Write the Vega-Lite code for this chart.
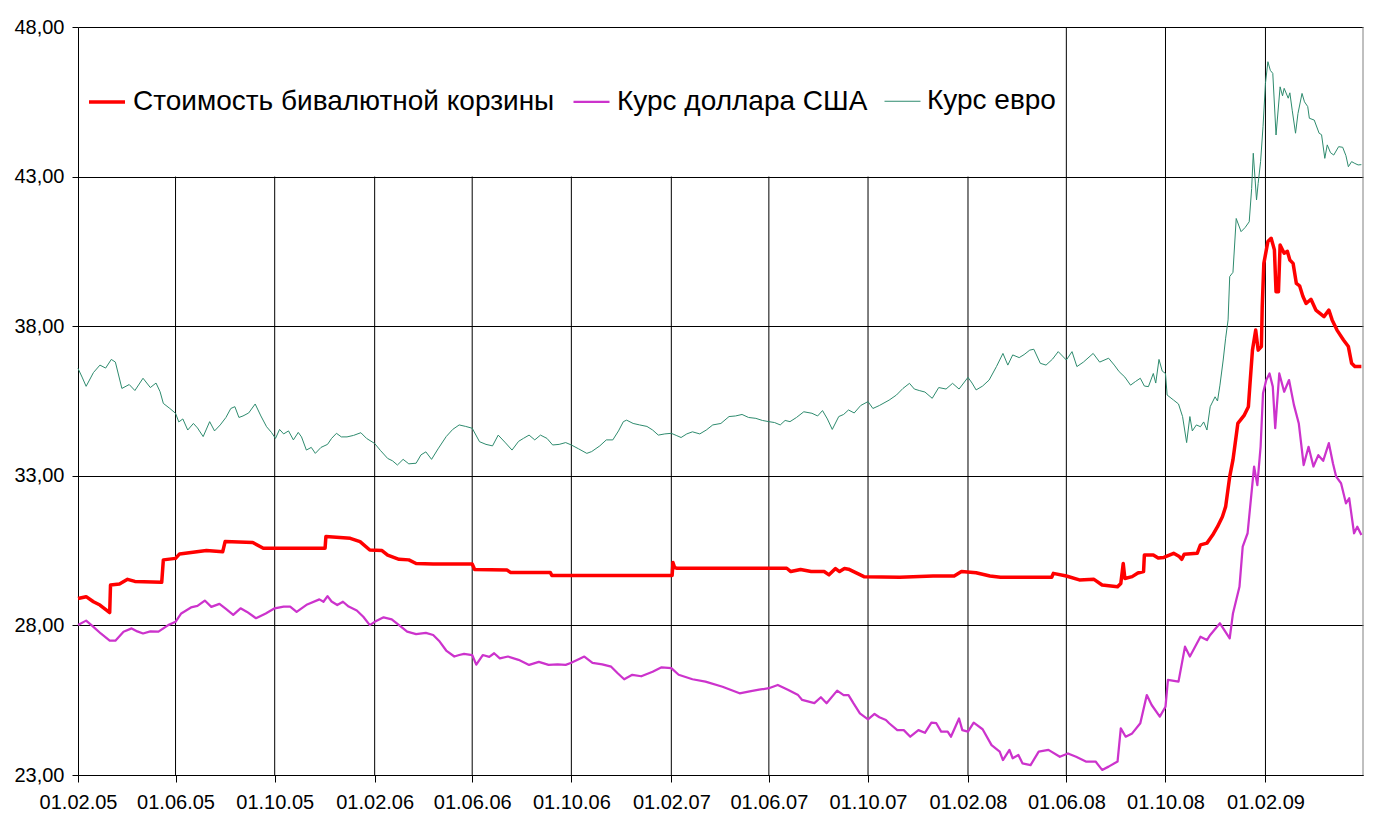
{
  "$schema": "https://vega.github.io/schema/vega-lite/v6.json",
  "width": 1285,
  "height": 748,
  "autosize": {"type": "none"},
  "padding": {"left": 78, "top": 27, "right": 20, "bottom": 49},
  "background": "white",
  "config": {
    "view": {"stroke": null},
    "font": "Liberation Sans",
    "axis": {"labelFont": "Liberation Sans", "labelColor": "black", "labelFontSize": 20}
  },
  "encoding": {
    "x": {
      "field": "d",
      "type": "temporal",
      "scale": {
        "type": "utc",
        "domain": [
          {"year": 2005, "month": 2, "date": 1, "utc": true},
          {"year": 2009, "month": 6, "date": 1, "utc": true}
        ]
      },
      "axis": {
        "title": null,
        "grid": false,
        "format": "%d.%m.%y",
        "values": [
          {"year": 2005, "month": 2, "date": 1, "utc": true},
          {"year": 2005, "month": 6, "date": 1, "utc": true},
          {"year": 2005, "month": 10, "date": 1, "utc": true},
          {"year": 2006, "month": 2, "date": 1, "utc": true},
          {"year": 2006, "month": 6, "date": 1, "utc": true},
          {"year": 2006, "month": 10, "date": 1, "utc": true},
          {"year": 2007, "month": 2, "date": 1, "utc": true},
          {"year": 2007, "month": 6, "date": 1, "utc": true},
          {"year": 2007, "month": 10, "date": 1, "utc": true},
          {"year": 2008, "month": 2, "date": 1, "utc": true},
          {"year": 2008, "month": 6, "date": 1, "utc": true},
          {"year": 2008, "month": 10, "date": 1, "utc": true},
          {"year": 2009, "month": 2, "date": 1, "utc": true}
        ],
        "domainColor": "black",
        "tickColor": "black",
        "tickSize": 7,
        "labelPadding": 10,
        "labelOverlap": false,
        "labelFlush": false
      }
    }
  },
  "layer": [
    {
      "data": {"values": [
        {"d": "2005-06-01"}, {"d": "2005-10-01"}, {"d": "2006-02-01"}, {"d": "2006-06-01"},
        {"d": "2006-10-01"}, {"d": "2007-02-01"}, {"d": "2007-06-01"}, {"d": "2007-10-01"},
        {"d": "2008-02-01"}
      ]},
      "mark": {"type": "rule", "color": "black", "strokeWidth": 1},
      "encoding": {
        "y": {"datum": 23, "type": "quantitative"},
        "y2": {"datum": 43}
      }
    },
    {
      "data": {"values": [
        {"d": "2008-06-01"}, {"d": "2008-10-01"}, {"d": "2009-02-01"}
      ]},
      "mark": {"type": "rule", "color": "black", "strokeWidth": 1},
      "encoding": {
        "y": {"datum": 23, "type": "quantitative"},
        "y2": {"datum": 48}
      }
    },
    {
      "data": {"values": [{"d": "2009-06-01"}]},
      "mark": {"type": "rule", "color": "#808080", "strokeWidth": 1},
      "encoding": {
        "y": {"datum": 23, "type": "quantitative"},
        "y2": {"datum": 48}
      }
    },
    {
      "data": {"values": [
        {"d":"2005-02-01","s":"e","v":36.59},{"d":"2005-02-06","s":"e","v":36.3},{"d":"2005-02-11","s":"e","v":35.99},
        {"d":"2005-02-20","s":"e","v":36.45},{"d":"2005-02-28","s":"e","v":36.7},{"d":"2005-03-07","s":"e","v":36.6},
        {"d":"2005-03-14","s":"e","v":36.89},{"d":"2005-03-19","s":"e","v":36.8},{"d":"2005-03-27","s":"e","v":35.92},
        {"d":"2005-04-05","s":"e","v":36.05},{"d":"2005-04-12","s":"e","v":35.85},{"d":"2005-04-22","s":"e","v":36.26},
        {"d":"2005-05-01","s":"e","v":35.95},{"d":"2005-05-08","s":"e","v":36.1},{"d":"2005-05-13","s":"e","v":35.81},
        {"d":"2005-05-17","s":"e","v":35.42},{"d":"2005-05-25","s":"e","v":35.25},{"d":"2005-06-01","s":"e","v":35.09},
        {"d":"2005-06-05","s":"e","v":34.8},{"d":"2005-06-10","s":"e","v":34.9},{"d":"2005-06-16","s":"e","v":34.53},
        {"d":"2005-06-23","s":"e","v":34.75},{"d":"2005-06-28","s":"e","v":34.6},{"d":"2005-07-05","s":"e","v":34.31},
        {"d":"2005-07-13","s":"e","v":34.81},{"d":"2005-07-19","s":"e","v":34.5},{"d":"2005-07-26","s":"e","v":34.7},
        {"d":"2005-08-02","s":"e","v":34.95},{"d":"2005-08-08","s":"e","v":35.25},{"d":"2005-08-13","s":"e","v":35.31},
        {"d":"2005-08-18","s":"e","v":34.95},{"d":"2005-08-23","s":"e","v":35.0},{"d":"2005-08-30","s":"e","v":35.1},
        {"d":"2005-09-07","s":"e","v":35.4},{"d":"2005-09-14","s":"e","v":35.0},{"d":"2005-09-21","s":"e","v":34.64},
        {"d":"2005-09-27","s":"e","v":34.45},{"d":"2005-10-02","s":"e","v":34.25},{"d":"2005-10-07","s":"e","v":34.55},
        {"d":"2005-10-12","s":"e","v":34.4},{"d":"2005-10-18","s":"e","v":34.5},{"d":"2005-10-24","s":"e","v":34.2},
        {"d":"2005-10-30","s":"e","v":34.45},{"d":"2005-11-03","s":"e","v":34.3},{"d":"2005-11-09","s":"e","v":33.86},
        {"d":"2005-11-15","s":"e","v":33.95},{"d":"2005-11-20","s":"e","v":33.75},{"d":"2005-11-27","s":"e","v":33.95},
        {"d":"2005-12-05","s":"e","v":34.05},{"d":"2005-12-10","s":"e","v":34.25},{"d":"2005-12-16","s":"e","v":34.42},
        {"d":"2005-12-22","s":"e","v":34.3},{"d":"2005-12-29","s":"e","v":34.3},{"d":"2006-01-06","s":"e","v":34.35},
        {"d":"2006-01-15","s":"e","v":34.44},{"d":"2006-01-22","s":"e","v":34.25},{"d":"2006-02-01","s":"e","v":34.08},
        {"d":"2006-02-08","s":"e","v":33.85},{"d":"2006-02-17","s":"e","v":33.58},{"d":"2006-02-23","s":"e","v":33.5},
        {"d":"2006-03-01","s":"e","v":33.36},{"d":"2006-03-08","s":"e","v":33.55},{"d":"2006-03-15","s":"e","v":33.4},
        {"d":"2006-03-24","s":"e","v":33.42},{"d":"2006-03-30","s":"e","v":33.7},{"d":"2006-04-05","s":"e","v":33.8},
        {"d":"2006-04-12","s":"e","v":33.55},{"d":"2006-04-20","s":"e","v":33.9},{"d":"2006-04-30","s":"e","v":34.31},
        {"d":"2006-05-08","s":"e","v":34.55},{"d":"2006-05-16","s":"e","v":34.7},{"d":"2006-05-24","s":"e","v":34.65},
        {"d":"2006-06-01","s":"e","v":34.59},{"d":"2006-06-10","s":"e","v":34.14},{"d":"2006-06-18","s":"e","v":34.05},
        {"d":"2006-06-26","s":"e","v":34.0},{"d":"2006-07-03","s":"e","v":34.36},{"d":"2006-07-12","s":"e","v":34.1},
        {"d":"2006-07-20","s":"e","v":33.86},{"d":"2006-07-28","s":"e","v":34.15},{"d":"2006-08-03","s":"e","v":34.25},
        {"d":"2006-08-10","s":"e","v":34.36},{"d":"2006-08-17","s":"e","v":34.2},{"d":"2006-08-24","s":"e","v":34.36},
        {"d":"2006-09-01","s":"e","v":34.25},{"d":"2006-09-08","s":"e","v":34.03},{"d":"2006-09-16","s":"e","v":34.05},
        {"d":"2006-09-24","s":"e","v":34.11},{"d":"2006-10-01","s":"e","v":34.03},{"d":"2006-10-10","s":"e","v":33.9},
        {"d":"2006-10-20","s":"e","v":33.75},{"d":"2006-10-26","s":"e","v":33.81},{"d":"2006-11-05","s":"e","v":34.0},
        {"d":"2006-11-13","s":"e","v":34.2},{"d":"2006-11-21","s":"e","v":34.2},{"d":"2006-11-28","s":"e","v":34.5},
        {"d":"2006-12-04","s":"e","v":34.81},{"d":"2006-12-08","s":"e","v":34.86},{"d":"2006-12-16","s":"e","v":34.75},
        {"d":"2006-12-24","s":"e","v":34.7},{"d":"2007-01-02","s":"e","v":34.65},{"d":"2007-01-09","s":"e","v":34.53},
        {"d":"2007-01-16","s":"e","v":34.36},{"d":"2007-01-24","s":"e","v":34.4},{"d":"2007-02-01","s":"e","v":34.42},
        {"d":"2007-02-07","s":"e","v":34.35},{"d":"2007-02-13","s":"e","v":34.28},{"d":"2007-02-20","s":"e","v":34.4},
        {"d":"2007-02-27","s":"e","v":34.47},{"d":"2007-03-08","s":"e","v":34.4},{"d":"2007-03-16","s":"e","v":34.53},
        {"d":"2007-03-24","s":"e","v":34.7},{"d":"2007-04-03","s":"e","v":34.75},{"d":"2007-04-13","s":"e","v":34.98},
        {"d":"2007-04-21","s":"e","v":35.0},{"d":"2007-04-29","s":"e","v":35.05},{"d":"2007-05-07","s":"e","v":34.95},
        {"d":"2007-05-16","s":"e","v":34.92},{"d":"2007-05-24","s":"e","v":34.85},{"d":"2007-06-01","s":"e","v":34.81},
        {"d":"2007-06-08","s":"e","v":34.78},{"d":"2007-06-15","s":"e","v":34.7},{"d":"2007-06-21","s":"e","v":34.85},
        {"d":"2007-06-27","s":"e","v":34.81},{"d":"2007-07-05","s":"e","v":34.95},{"d":"2007-07-14","s":"e","v":35.14},
        {"d":"2007-07-24","s":"e","v":35.09},{"d":"2007-07-31","s":"e","v":35.0},{"d":"2007-08-06","s":"e","v":35.18},
        {"d":"2007-08-12","s":"e","v":34.9},{"d":"2007-08-18","s":"e","v":34.55},{"d":"2007-08-26","s":"e","v":34.98},
        {"d":"2007-09-01","s":"e","v":35.05},{"d":"2007-09-07","s":"e","v":35.2},{"d":"2007-09-14","s":"e","v":35.1},
        {"d":"2007-09-22","s":"e","v":35.35},{"d":"2007-10-01","s":"e","v":35.48},{"d":"2007-10-07","s":"e","v":35.25},
        {"d":"2007-10-15","s":"e","v":35.35},{"d":"2007-10-27","s":"e","v":35.53},{"d":"2007-11-05","s":"e","v":35.7},
        {"d":"2007-11-13","s":"e","v":35.92},{"d":"2007-11-21","s":"e","v":36.09},{"d":"2007-11-27","s":"e","v":35.9},
        {"d":"2007-12-03","s":"e","v":35.85},{"d":"2007-12-10","s":"e","v":35.8},{"d":"2007-12-19","s":"e","v":35.59},
        {"d":"2007-12-27","s":"e","v":35.95},{"d":"2008-01-05","s":"e","v":35.9},{"d":"2008-01-13","s":"e","v":36.09},
        {"d":"2008-01-21","s":"e","v":35.9},{"d":"2008-02-01","s":"e","v":36.29},{"d":"2008-02-06","s":"e","v":36.1},
        {"d":"2008-02-11","s":"e","v":35.87},{"d":"2008-02-19","s":"e","v":36.0},{"d":"2008-02-27","s":"e","v":36.2},
        {"d":"2008-03-07","s":"e","v":36.65},{"d":"2008-03-15","s":"e","v":37.09},{"d":"2008-03-21","s":"e","v":36.7},
        {"d":"2008-03-27","s":"e","v":37.04},{"d":"2008-04-04","s":"e","v":36.95},{"d":"2008-04-10","s":"e","v":37.05},
        {"d":"2008-04-17","s":"e","v":37.2},{"d":"2008-04-22","s":"e","v":37.23},{"d":"2008-04-30","s":"e","v":36.76},
        {"d":"2008-05-07","s":"e","v":36.7},{"d":"2008-05-15","s":"e","v":36.9},{"d":"2008-05-22","s":"e","v":37.15},
        {"d":"2008-06-01","s":"e","v":36.87},{"d":"2008-06-08","s":"e","v":37.15},{"d":"2008-06-14","s":"e","v":36.65},
        {"d":"2008-06-22","s":"e","v":36.8},{"d":"2008-07-04","s":"e","v":37.09},{"d":"2008-07-12","s":"e","v":36.8},
        {"d":"2008-07-23","s":"e","v":36.93},{"d":"2008-07-30","s":"e","v":36.7},{"d":"2008-08-05","s":"e","v":36.48},
        {"d":"2008-08-12","s":"e","v":36.3},{"d":"2008-08-19","s":"e","v":36.03},{"d":"2008-08-25","s":"e","v":36.15},
        {"d":"2008-08-31","s":"e","v":36.26},{"d":"2008-09-05","s":"e","v":36.0},{"d":"2008-09-10","s":"e","v":35.98},
        {"d":"2008-09-16","s":"e","v":36.42},{"d":"2008-09-19","s":"e","v":36.1},{"d":"2008-09-23","s":"e","v":36.89},
        {"d":"2008-09-27","s":"e","v":36.5},{"d":"2008-10-01","s":"e","v":36.42},{"d":"2008-10-03","s":"e","v":35.7},
        {"d":"2008-10-11","s":"e","v":35.53},{"d":"2008-10-17","s":"e","v":35.4},{"d":"2008-10-22","s":"e","v":34.98},
        {"d":"2008-10-27","s":"e","v":34.11},{"d":"2008-10-31","s":"e","v":34.98},{"d":"2008-11-03","s":"e","v":34.5},
        {"d":"2008-11-08","s":"e","v":34.7},{"d":"2008-11-13","s":"e","v":34.64},{"d":"2008-11-17","s":"e","v":34.8},
        {"d":"2008-11-21","s":"e","v":34.53},{"d":"2008-11-25","s":"e","v":35.31},{"d":"2008-12-01","s":"e","v":35.64},
        {"d":"2008-12-04","s":"e","v":35.5},{"d":"2008-12-07","s":"e","v":36.03},{"d":"2008-12-11","s":"e","v":36.87},
        {"d":"2008-12-14","s":"e","v":37.6},{"d":"2008-12-17","s":"e","v":38.21},{"d":"2008-12-19","s":"e","v":39.66},
        {"d":"2008-12-23","s":"e","v":39.8},{"d":"2008-12-27","s":"e","v":41.6},{"d":"2009-01-02","s":"e","v":41.16},
        {"d":"2009-01-07","s":"e","v":41.3},{"d":"2009-01-12","s":"e","v":41.49},{"d":"2009-01-15","s":"e","v":42.6},
        {"d":"2009-01-17","s":"e","v":43.78},{"d":"2009-01-21","s":"e","v":42.22},{"d":"2009-01-23","s":"e","v":42.77},
        {"d":"2009-01-26","s":"e","v":43.5},{"d":"2009-01-29","s":"e","v":44.67},{"d":"2009-02-01","s":"e","v":46.12},
        {"d":"2009-02-04","s":"e","v":46.84},{"d":"2009-02-07","s":"e","v":46.55},{"d":"2009-02-10","s":"e","v":46.45},
        {"d":"2009-02-14","s":"e","v":44.39},{"d":"2009-02-19","s":"e","v":46.0},{"d":"2009-02-22","s":"e","v":45.7},
        {"d":"2009-02-24","s":"e","v":45.95},{"d":"2009-03-01","s":"e","v":45.62},{"d":"2009-03-03","s":"e","v":45.8},
        {"d":"2009-03-06","s":"e","v":45.2},{"d":"2009-03-10","s":"e","v":44.45},{"d":"2009-03-13","s":"e","v":45.11},
        {"d":"2009-03-18","s":"e","v":45.78},{"d":"2009-03-21","s":"e","v":45.5},{"d":"2009-03-25","s":"e","v":45.34},
        {"d":"2009-03-27","s":"e","v":44.95},{"d":"2009-04-02","s":"e","v":44.89},{"d":"2009-04-08","s":"e","v":44.45},
        {"d":"2009-04-11","s":"e","v":44.4},{"d":"2009-04-15","s":"e","v":43.61},{"d":"2009-04-18","s":"e","v":44.06},
        {"d":"2009-04-22","s":"e","v":43.8},{"d":"2009-04-26","s":"e","v":43.72},{"d":"2009-05-02","s":"e","v":44.0},
        {"d":"2009-05-07","s":"e","v":43.98},{"d":"2009-05-11","s":"e","v":43.7},{"d":"2009-05-14","s":"e","v":43.33},
        {"d":"2009-05-18","s":"e","v":43.5},{"d":"2009-05-22","s":"e","v":43.44},{"d":"2009-05-26","s":"e","v":43.39},
        {"d":"2009-05-30","s":"e","v":43.4},

        {"d":"2005-02-01","s":"u","v":28.01},{"d":"2005-02-11","s":"u","v":28.16},{"d":"2005-02-20","s":"u","v":27.95},
        {"d":"2005-03-01","s":"u","v":27.73},{"d":"2005-03-12","s":"u","v":27.49},{"d":"2005-03-19","s":"u","v":27.49},
        {"d":"2005-03-29","s":"u","v":27.79},{"d":"2005-04-08","s":"u","v":27.9},{"d":"2005-04-15","s":"u","v":27.8},
        {"d":"2005-04-22","s":"u","v":27.73},{"d":"2005-05-01","s":"u","v":27.8},{"d":"2005-05-11","s":"u","v":27.79},
        {"d":"2005-05-23","s":"u","v":28.01},{"d":"2005-06-01","s":"u","v":28.12},{"d":"2005-06-08","s":"u","v":28.4},
        {"d":"2005-06-20","s":"u","v":28.6},{"d":"2005-06-28","s":"u","v":28.65},{"d":"2005-07-07","s":"u","v":28.83},
        {"d":"2005-07-15","s":"u","v":28.62},{"d":"2005-07-25","s":"u","v":28.72},{"d":"2005-08-02","s":"u","v":28.55},
        {"d":"2005-08-11","s":"u","v":28.35},{"d":"2005-08-20","s":"u","v":28.57},{"d":"2005-08-28","s":"u","v":28.45},
        {"d":"2005-09-08","s":"u","v":28.24},{"d":"2005-09-20","s":"u","v":28.4},{"d":"2005-10-01","s":"u","v":28.57},
        {"d":"2005-10-12","s":"u","v":28.63},{"d":"2005-10-20","s":"u","v":28.63},{"d":"2005-10-28","s":"u","v":28.45},
        {"d":"2005-11-10","s":"u","v":28.7},{"d":"2005-11-25","s":"u","v":28.87},{"d":"2005-11-30","s":"u","v":28.79},
        {"d":"2005-12-05","s":"u","v":28.98},{"d":"2005-12-10","s":"u","v":28.8},{"d":"2005-12-17","s":"u","v":28.68},
        {"d":"2005-12-24","s":"u","v":28.79},{"d":"2005-12-31","s":"u","v":28.63},{"d":"2006-01-10","s":"u","v":28.5},
        {"d":"2006-01-18","s":"u","v":28.29},{"d":"2006-01-26","s":"u","v":28.01},{"d":"2006-02-01","s":"u","v":28.12},
        {"d":"2006-02-12","s":"u","v":28.27},{"d":"2006-02-22","s":"u","v":28.2},{"d":"2006-03-03","s":"u","v":28.01},
        {"d":"2006-03-13","s":"u","v":27.79},{"d":"2006-03-24","s":"u","v":27.71},{"d":"2006-04-05","s":"u","v":27.75},
        {"d":"2006-04-14","s":"u","v":27.68},{"d":"2006-04-22","s":"u","v":27.46},{"d":"2006-04-30","s":"u","v":27.16},
        {"d":"2006-05-10","s":"u","v":26.96},{"d":"2006-05-16","s":"u","v":27.01},{"d":"2006-05-22","s":"u","v":27.05},
        {"d":"2006-06-01","s":"u","v":27.01},{"d":"2006-06-06","s":"u","v":26.69},{"d":"2006-06-14","s":"u","v":27.01},
        {"d":"2006-06-22","s":"u","v":26.95},{"d":"2006-06-28","s":"u","v":27.07},{"d":"2006-07-05","s":"u","v":26.9},
        {"d":"2006-07-15","s":"u","v":26.96},{"d":"2006-07-28","s":"u","v":26.85},{"d":"2006-08-10","s":"u","v":26.68},
        {"d":"2006-08-22","s":"u","v":26.78},{"d":"2006-09-03","s":"u","v":26.68},{"d":"2006-09-14","s":"u","v":26.7},
        {"d":"2006-09-24","s":"u","v":26.68},{"d":"2006-10-01","s":"u","v":26.75},{"d":"2006-10-17","s":"u","v":26.96},
        {"d":"2006-10-27","s":"u","v":26.75},{"d":"2006-11-08","s":"u","v":26.7},{"d":"2006-11-19","s":"u","v":26.62},
        {"d":"2006-11-27","s":"u","v":26.4},{"d":"2006-12-05","s":"u","v":26.2},{"d":"2006-12-15","s":"u","v":26.35},
        {"d":"2006-12-26","s":"u","v":26.3},{"d":"2007-01-09","s":"u","v":26.45},{"d":"2007-01-20","s":"u","v":26.6},
        {"d":"2007-02-01","s":"u","v":26.57},{"d":"2007-02-10","s":"u","v":26.35},{"d":"2007-02-27","s":"u","v":26.2},
        {"d":"2007-03-15","s":"u","v":26.12},{"d":"2007-04-05","s":"u","v":25.95},{"d":"2007-04-26","s":"u","v":25.73},
        {"d":"2007-05-10","s":"u","v":25.8},{"d":"2007-05-20","s":"u","v":25.85},{"d":"2007-06-01","s":"u","v":25.9},
        {"d":"2007-06-12","s":"u","v":26.01},{"d":"2007-06-25","s":"u","v":25.84},{"d":"2007-07-07","s":"u","v":25.67},
        {"d":"2007-07-12","s":"u","v":25.51},{"d":"2007-07-27","s":"u","v":25.4},{"d":"2007-08-04","s":"u","v":25.6},
        {"d":"2007-08-11","s":"u","v":25.4},{"d":"2007-08-24","s":"u","v":25.82},{"d":"2007-09-01","s":"u","v":25.67},
        {"d":"2007-09-07","s":"u","v":25.67},{"d":"2007-09-13","s":"u","v":25.4},{"d":"2007-09-21","s":"u","v":25.06},
        {"d":"2007-10-01","s":"u","v":24.86},{"d":"2007-10-09","s":"u","v":25.04},{"d":"2007-10-15","s":"u","v":24.93},
        {"d":"2007-10-23","s":"u","v":24.84},{"d":"2007-10-27","s":"u","v":24.73},{"d":"2007-11-06","s":"u","v":24.5},
        {"d":"2007-11-14","s":"u","v":24.5},{"d":"2007-11-22","s":"u","v":24.28},{"d":"2007-12-02","s":"u","v":24.5},
        {"d":"2007-12-10","s":"u","v":24.41},{"d":"2007-12-18","s":"u","v":24.75},{"d":"2007-12-24","s":"u","v":24.73},
        {"d":"2007-12-30","s":"u","v":24.45},{"d":"2008-01-07","s":"u","v":24.45},{"d":"2008-01-11","s":"u","v":24.28},
        {"d":"2008-01-21","s":"u","v":24.89},{"d":"2008-01-25","s":"u","v":24.5},{"d":"2008-02-01","s":"u","v":24.45},
        {"d":"2008-02-08","s":"u","v":24.75},{"d":"2008-02-19","s":"u","v":24.53},{"d":"2008-03-01","s":"u","v":24.0},
        {"d":"2008-03-11","s":"u","v":23.78},{"d":"2008-03-15","s":"u","v":23.5},{"d":"2008-03-23","s":"u","v":23.84},
        {"d":"2008-03-27","s":"u","v":23.56},{"d":"2008-04-03","s":"u","v":23.67},{"d":"2008-04-08","s":"u","v":23.39},
        {"d":"2008-04-18","s":"u","v":23.33},{"d":"2008-04-28","s":"u","v":23.78},{"d":"2008-05-10","s":"u","v":23.84},
        {"d":"2008-05-24","s":"u","v":23.61},{"d":"2008-06-03","s":"u","v":23.72},{"d":"2008-06-13","s":"u","v":23.61},
        {"d":"2008-06-25","s":"u","v":23.45},{"d":"2008-07-07","s":"u","v":23.45},{"d":"2008-07-15","s":"u","v":23.17},
        {"d":"2008-07-23","s":"u","v":23.28},{"d":"2008-08-03","s":"u","v":23.45},{"d":"2008-08-07","s":"u","v":24.56},
        {"d":"2008-08-13","s":"u","v":24.28},{"d":"2008-08-21","s":"u","v":24.39},{"d":"2008-08-31","s":"u","v":24.73},
        {"d":"2008-09-08","s":"u","v":25.67},{"d":"2008-09-14","s":"u","v":25.34},{"d":"2008-09-24","s":"u","v":24.95},
        {"d":"2008-10-01","s":"u","v":25.28},{"d":"2008-10-04","s":"u","v":26.18},{"d":"2008-10-17","s":"u","v":26.12},
        {"d":"2008-10-25","s":"u","v":27.29},{"d":"2008-10-31","s":"u","v":26.96},{"d":"2008-11-13","s":"u","v":27.62},
        {"d":"2008-11-21","s":"u","v":27.51},{"d":"2008-11-25","s":"u","v":27.68},{"d":"2008-12-07","s":"u","v":28.07},
        {"d":"2008-12-19","s":"u","v":27.57},{"d":"2008-12-23","s":"u","v":28.4},{"d":"2008-12-31","s":"u","v":29.29},
        {"d":"2009-01-04","s":"u","v":30.63},{"d":"2009-01-10","s":"u","v":31.08},{"d":"2009-01-18","s":"u","v":33.31},
        {"d":"2009-01-22","s":"u","v":32.69},{"d":"2009-01-26","s":"u","v":33.97},{"d":"2009-01-29","s":"u","v":35.76},
        {"d":"2009-02-02","s":"u","v":36.2},{"d":"2009-02-06","s":"u","v":36.42},{"d":"2009-02-10","s":"u","v":35.98},
        {"d":"2009-02-13","s":"u","v":34.59},{"d":"2009-02-18","s":"u","v":36.42},{"d":"2009-02-24","s":"u","v":35.81},
        {"d":"2009-03-02","s":"u","v":36.2},{"d":"2009-03-08","s":"u","v":35.37},{"d":"2009-03-14","s":"u","v":34.75},
        {"d":"2009-03-20","s":"u","v":33.36},{"d":"2009-03-26","s":"u","v":33.97},{"d":"2009-04-01","s":"u","v":33.31},
        {"d":"2009-04-07","s":"u","v":33.69},{"d":"2009-04-13","s":"u","v":33.5},{"d":"2009-04-20","s":"u","v":34.09},
        {"d":"2009-04-25","s":"u","v":33.42},{"d":"2009-04-29","s":"u","v":32.97},{"d":"2009-05-05","s":"u","v":32.75},
        {"d":"2009-05-11","s":"u","v":32.08},{"d":"2009-05-15","s":"u","v":32.25},{"d":"2009-05-21","s":"u","v":31.08},
        {"d":"2009-05-25","s":"u","v":31.3},{"d":"2009-05-30","s":"u","v":31.02},

        {"d":"2005-02-01","s":"b","v":28.9},{"d":"2005-02-11","s":"b","v":28.96},{"d":"2005-02-20","s":"b","v":28.79},
        {"d":"2005-02-28","s":"b","v":28.68},{"d":"2005-03-12","s":"b","v":28.43},{"d":"2005-03-13","s":"b","v":29.35},
        {"d":"2005-03-24","s":"b","v":29.38},{"d":"2005-04-03","s":"b","v":29.54},{"d":"2005-04-12","s":"b","v":29.47},
        {"d":"2005-05-15","s":"b","v":29.44},{"d":"2005-05-17","s":"b","v":30.19},{"d":"2005-06-01","s":"b","v":30.24},
        {"d":"2005-06-06","s":"b","v":30.39},{"d":"2005-07-09","s":"b","v":30.5},{"d":"2005-07-29","s":"b","v":30.46},
        {"d":"2005-08-01","s":"b","v":30.8},{"d":"2005-09-04","s":"b","v":30.77},{"d":"2005-09-17","s":"b","v":30.58},
        {"d":"2005-12-02","s":"b","v":30.58},{"d":"2005-12-03","s":"b","v":30.97},{"d":"2006-01-02","s":"b","v":30.91},
        {"d":"2006-01-14","s":"b","v":30.8},{"d":"2006-01-26","s":"b","v":30.52},{"d":"2006-02-10","s":"b","v":30.5},
        {"d":"2006-02-17","s":"b","v":30.35},{"d":"2006-03-03","s":"b","v":30.21},{"d":"2006-03-15","s":"b","v":30.19},
        {"d":"2006-03-24","s":"b","v":30.07},{"d":"2006-04-14","s":"b","v":30.05},{"d":"2006-06-01","s":"b","v":30.05},
        {"d":"2006-06-04","s":"b","v":29.87},{"d":"2006-07-14","s":"b","v":29.85},{"d":"2006-07-18","s":"b","v":29.77},
        {"d":"2006-09-05","s":"b","v":29.77},{"d":"2006-09-07","s":"b","v":29.67},{"d":"2007-02-02","s":"b","v":29.67},
        {"d":"2007-02-03","s":"b","v":30.1},{"d":"2007-02-05","s":"b","v":29.93},{"d":"2007-02-08","s":"b","v":29.91},
        {"d":"2007-06-23","s":"b","v":29.91},{"d":"2007-06-28","s":"b","v":29.8},{"d":"2007-07-10","s":"b","v":29.87},
        {"d":"2007-07-23","s":"b","v":29.8},{"d":"2007-08-08","s":"b","v":29.8},{"d":"2007-08-14","s":"b","v":29.69},
        {"d":"2007-08-22","s":"b","v":29.9},{"d":"2007-08-27","s":"b","v":29.8},{"d":"2007-09-02","s":"b","v":29.9},
        {"d":"2007-09-07","s":"b","v":29.88},{"d":"2007-09-26","s":"b","v":29.63},{"d":"2007-11-09","s":"b","v":29.61},
        {"d":"2007-12-20","s":"b","v":29.65},{"d":"2008-01-15","s":"b","v":29.65},{"d":"2008-01-24","s":"b","v":29.8},
        {"d":"2008-02-11","s":"b","v":29.76},{"d":"2008-02-28","s":"b","v":29.65},{"d":"2008-03-12","s":"b","v":29.61},
        {"d":"2008-05-14","s":"b","v":29.61},{"d":"2008-05-16","s":"b","v":29.74},{"d":"2008-06-01","s":"b","v":29.65},
        {"d":"2008-06-17","s":"b","v":29.52},{"d":"2008-07-05","s":"b","v":29.54},{"d":"2008-07-15","s":"b","v":29.35},
        {"d":"2008-08-03","s":"b","v":29.29},{"d":"2008-08-07","s":"b","v":29.4},{"d":"2008-08-10","s":"b","v":30.07},
        {"d":"2008-08-12","s":"b","v":29.57},{"d":"2008-08-21","s":"b","v":29.63},{"d":"2008-08-28","s":"b","v":29.75},
        {"d":"2008-09-04","s":"b","v":29.8},{"d":"2008-09-05","s":"b","v":30.35},{"d":"2008-09-16","s":"b","v":30.35},
        {"d":"2008-09-22","s":"b","v":30.25},{"d":"2008-09-29","s":"b","v":30.27},{"d":"2008-10-11","s":"b","v":30.41},
        {"d":"2008-10-18","s":"b","v":30.3},{"d":"2008-10-21","s":"b","v":30.21},{"d":"2008-10-24","s":"b","v":30.38},
        {"d":"2008-11-09","s":"b","v":30.41},{"d":"2008-11-13","s":"b","v":30.69},{"d":"2008-11-21","s":"b","v":30.75},
        {"d":"2008-11-28","s":"b","v":31.02},{"d":"2008-12-04","s":"b","v":31.3},{"d":"2008-12-10","s":"b","v":31.63},
        {"d":"2008-12-14","s":"b","v":31.97},{"d":"2008-12-19","s":"b","v":32.97},{"d":"2008-12-23","s":"b","v":33.53},
        {"d":"2008-12-29","s":"b","v":34.75},{"d":"2009-01-06","s":"b","v":35.03},{"d":"2009-01-11","s":"b","v":35.31},
        {"d":"2009-01-13","s":"b","v":36.09},{"d":"2009-01-16","s":"b","v":37.2},{"d":"2009-01-20","s":"b","v":37.87},
        {"d":"2009-01-23","s":"b","v":37.2},{"d":"2009-01-27","s":"b","v":37.32},{"d":"2009-01-28","s":"b","v":38.65},
        {"d":"2009-01-30","s":"b","v":40.1},{"d":"2009-02-04","s":"b","v":40.83},{"d":"2009-02-08","s":"b","v":40.94},
        {"d":"2009-02-12","s":"b","v":40.55},{"d":"2009-02-14","s":"b","v":39.15},{"d":"2009-02-17","s":"b","v":39.15},
        {"d":"2009-02-19","s":"b","v":40.71},{"d":"2009-02-24","s":"b","v":40.44},{"d":"2009-02-28","s":"b","v":40.5},
        {"d":"2009-03-03","s":"b","v":40.21},{"d":"2009-03-07","s":"b","v":40.1},{"d":"2009-03-11","s":"b","v":39.43},
        {"d":"2009-03-15","s":"b","v":39.35},{"d":"2009-03-19","s":"b","v":39.0},{"d":"2009-03-23","s":"b","v":38.76},
        {"d":"2009-03-29","s":"b","v":38.9},{"d":"2009-04-04","s":"b","v":38.54},{"d":"2009-04-14","s":"b","v":38.32},
        {"d":"2009-04-20","s":"b","v":38.54},{"d":"2009-04-24","s":"b","v":38.21},{"d":"2009-04-30","s":"b","v":37.87},
        {"d":"2009-05-08","s":"b","v":37.54},{"d":"2009-05-14","s":"b","v":37.32},{"d":"2009-05-18","s":"b","v":36.76},
        {"d":"2009-05-22","s":"b","v":36.65},{"d":"2009-05-30","s":"b","v":36.65}
      ]},
      "mark": {"type": "line", "strokeJoin": "round"},
      "encoding": {
        "y": {
          "field": "v",
          "type": "quantitative",
          "scale": {"domain": [23, 48], "nice": false, "zero": false},
          "axis": {
            "title": null,
            "values": [23, 28, 33, 38, 43, 48],
            "labelExpr": "replace(format(datum.value, '.2f'), '.', ',')",
            "grid": true,
            "gridColor": "black",
            "gridOpacity": 1,
            "domainColor": "black",
            "tickColor": "black",
            "tickSize": 6,
            "labelPadding": 8
          }
        },
        "color": {
          "field": "s",
          "type": "nominal",
          "scale": {"domain": ["b", "u", "e"], "range": ["#FF0000", "#CC33CC", "#2E8B6E"]},
          "legend": {
            "title": null,
            "orient": "none",
            "legendX": 9,
            "legendY": 55,
            "direction": "horizontal",
            "padding": 0,
            "symbolType": "stroke",
            "symbolSize": 1296,
            "labelFont": "Liberation Sans",
            "labelFontSize": 28,
            "labelColor": "black",
            "labelOffset": 6,
            "columnPadding": 14,
            "labelLimit": 700,
            "labelExpr": "datum.label == 'b' ? 'Стоимость бивалютной корзины' : datum.label == 'u' ? 'Курс доллара США' : 'Курс евро'"
          }
        },
        "strokeWidth": {
          "field": "s",
          "type": "nominal",
          "scale": {"domain": ["b", "u", "e"], "range": [3.5, 1, 1]},
          "legend": {
            "title": null,
            "orient": "none",
            "legendX": 9,
            "legendY": 55,
            "direction": "horizontal",
            "padding": 0,
            "symbolType": "stroke",
            "symbolSize": 1296,
            "labelFont": "Liberation Sans",
            "labelFontSize": 28,
            "labelColor": "black",
            "labelOffset": 6,
            "columnPadding": 14,
            "labelLimit": 700,
            "labelExpr": "datum.label == 'b' ? 'Стоимость бивалютной корзины' : datum.label == 'u' ? 'Курс доллара США' : 'Курс евро'"
          }
        }
      }
    }
  ]
}
